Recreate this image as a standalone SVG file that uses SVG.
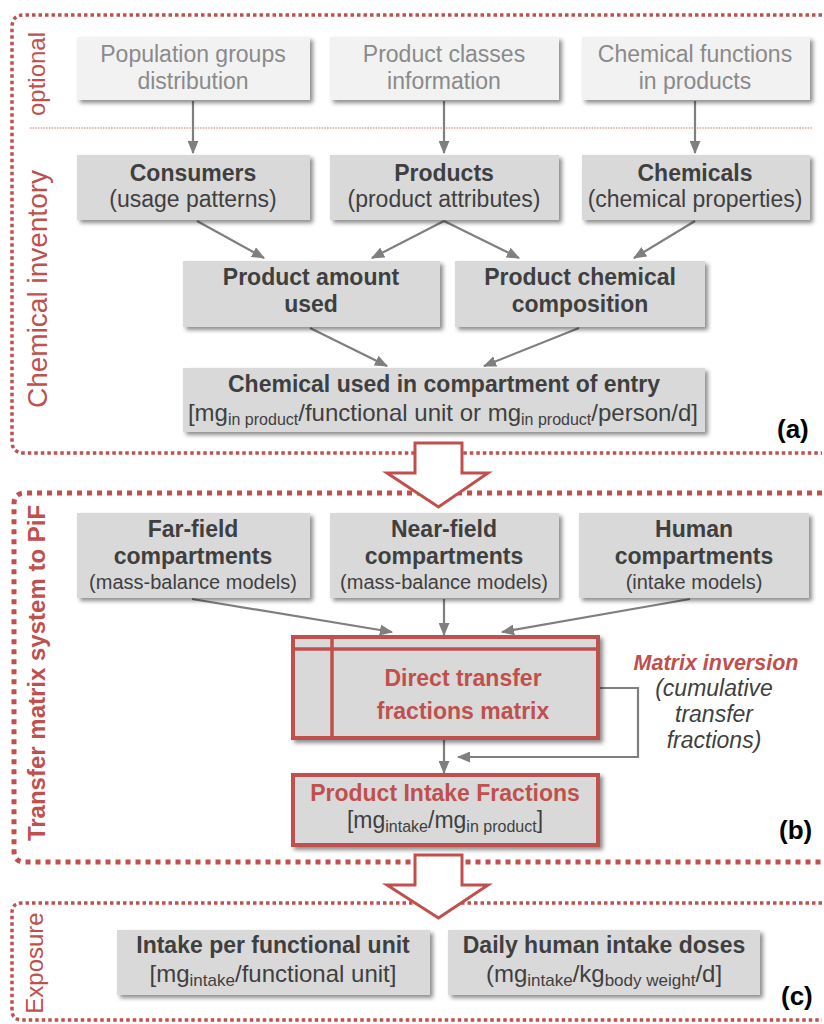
<svg xmlns="http://www.w3.org/2000/svg" width="824" height="1024" viewBox="0 0 824 1024">
<style>
.t{font-family:"Liberation Sans",Arial,sans-serif;text-anchor:middle}
.lt{fill:#8a8a8a;font-size:23px}
.b{fill:#3f3f3f;font-size:23px;font-weight:bold}
.r{fill:#3f3f3f;font-size:23px;font-weight:normal}
.r24{fill:#3f3f3f;font-size:24px;font-weight:normal}
.rs{fill:#3f3f3f;font-size:20px;font-weight:normal}
.red{fill:#c0504d;font-size:23px;font-weight:bold}
.lab{fill:#000;font-size:26px;font-weight:bold;font-family:"Liberation Sans",Arial,sans-serif}
.side{fill:#c0504d;font-family:"Liberation Sans",Arial,sans-serif;text-anchor:middle}
.optbox{fill:#f2f2f2}
.box{fill:#d9d9d9}
.con{stroke:#7f7f7f;stroke-width:2.2;fill:none}
.pa{fill:none;stroke:#c0504d;stroke-width:3.5;stroke-dasharray:3.5 3}
.pb{fill:none;stroke:#c0504d;stroke-width:5;stroke-dasharray:5 5}
.big{fill:#fff;stroke:#c0504d;stroke-width:3}
.sub{font-size:16px}
.sub2{font-size:16px}
.sub3{font-size:17px}
</style>
<defs>
<filter id="sh" x="-10%" y="-10%" width="125%" height="140%">
<feDropShadow dx="3" dy="3" stdDeviation="2" flood-color="#000" flood-opacity="0.45"/>
</filter>
<marker id="ah" viewBox="0 0 12 10" refX="11" refY="5" markerWidth="6" markerHeight="5" orient="auto" markerUnits="strokeWidth">
<path d="M0,0 L12,5 L0,10 Z" fill="#7f7f7f"/>
</marker>
</defs>
<rect width="824" height="1024" fill="#fff"/>

<g id="panels">
<path class="pa" d="M822,15 H24 Q12,15 12,27 V441 Q12,453 24,453 H822"/>
<line x1="30" y1="128" x2="812" y2="128" stroke="#e06868" stroke-width="1.2" stroke-dasharray="1.5 1.2"/>
<path class="pb" d="M822,493 H25 Q14,493 14,504 V851 Q14,862 25,862 H822"/>
<path class="pa" d="M822,903 H22 Q12,903 12,913 V1010 Q12,1020 22,1020 H822"/>
<text class="side" font-size="24" transform="translate(45,74) rotate(-90)">optional</text>
<text class="side" font-size="28" transform="translate(47,289) rotate(-90)">Chemical inventory</text>
<text class="side" font-size="24" font-weight="bold" transform="translate(45,673) rotate(-90)">Transfer matrix system to PiF</text>
<text class="side" font-size="24" transform="translate(43,963) rotate(-90)">Exposure</text>
<text class="lab" x="777" y="438">(a)</text>
<text class="lab" x="779" y="839">(b)</text>
<text class="lab" x="781" y="1005">(c)</text>
</g>

<g id="connectors">
<line class="con" x1="193" y1="101" x2="193" y2="153" marker-end="url(#ah)"/>
<line class="con" x1="444" y1="101" x2="444" y2="153" marker-end="url(#ah)"/>
<line class="con" x1="695" y1="101" x2="695" y2="153" marker-end="url(#ah)"/>
<line class="con" x1="197" y1="221" x2="264" y2="258" marker-end="url(#ah)"/>
<line class="con" x1="444" y1="221" x2="372" y2="258" marker-end="url(#ah)"/>
<line class="con" x1="444" y1="221" x2="519" y2="258" marker-end="url(#ah)"/>
<line class="con" x1="695" y1="221" x2="634" y2="258" marker-end="url(#ah)"/>
<line class="con" x1="310" y1="328" x2="387" y2="366" marker-end="url(#ah)"/>
<line class="con" x1="579" y1="328" x2="484" y2="366" marker-end="url(#ah)"/>
<line class="con" x1="192" y1="599" x2="392" y2="632" marker-end="url(#ah)"/>
<line class="con" x1="444" y1="599" x2="444" y2="635" marker-end="url(#ah)"/>
<line class="con" x1="690" y1="599" x2="502" y2="632" marker-end="url(#ah)"/>
<line class="con" x1="444" y1="740" x2="444" y2="773" marker-end="url(#ah)"/>
<polyline class="con" points="598,688 638,688 638,757 458,757" marker-end="url(#ah)"/>
</g>

<g id="bigarrows">
<path class="big" d="M415,443 H462 V473 H488 L438.5,507 L387,473 H415 Z"/>
<path class="big" d="M415,855 H462 V885 H488 L438.5,918 L387,885 H415 Z"/>
</g>

<g id="n-pop"><rect class="optbox" x="77" y="37" width="233" height="63" filter="url(#sh)"/>
<text class="t lt" x="193" y="62">Population groups<tspan x="193" dy="27">distribution</tspan></text></g>
<g id="n-pclass"><rect class="optbox" x="330" y="37" width="229" height="63" filter="url(#sh)"/>
<text class="t lt" x="444" y="62">Product  classes<tspan x="444" dy="27">information</tspan></text></g>
<g id="n-cfun"><rect class="optbox" x="582" y="37" width="228" height="63" filter="url(#sh)"/>
<text class="t lt" x="695" y="62">Chemical functions<tspan x="695" dy="27">in products</tspan></text></g>

<g id="n-consumers"><rect class="box" x="77" y="155" width="233" height="65" filter="url(#sh)"/>
<text class="t b" x="193" y="181">Consumers<tspan class="r" x="193" dy="26">(usage patterns)</tspan></text></g>
<g id="n-products"><rect class="box" x="330" y="155" width="229" height="65" filter="url(#sh)"/>
<text class="t b" x="444" y="181">Products<tspan class="r" x="444" dy="26">(product attributes)</tspan></text></g>
<g id="n-chemicals"><rect class="box" x="582" y="155" width="228" height="65" filter="url(#sh)"/>
<text class="t b" x="695" y="181">Chemicals<tspan class="r" x="695" dy="26" font-size="22">(chemical properties)</tspan></text></g>

<g id="n-amount"><rect class="box" x="183" y="261" width="257" height="66" filter="url(#sh)"/>
<text class="t b" x="311" y="285">Product amount<tspan x="311" dy="27">used</tspan></text></g>
<g id="n-composition"><rect class="box" x="455" y="261" width="250" height="66" filter="url(#sh)"/>
<text class="t b" x="580" y="285">Product chemical<tspan x="580" dy="27">composition</tspan></text></g>

<g id="n-entry"><rect class="box" x="183" y="368" width="522" height="64" filter="url(#sh)"/>
<text class="t b" x="444" y="392">Chemical used in compartment of entry<tspan x="443" dy="29" font-size="24" font-weight="normal">[mg</tspan><tspan class="sub2" font-weight="normal" dy="4">in product</tspan><tspan font-size="24" font-weight="normal" dy="-4">/functional unit or mg</tspan><tspan class="sub2" font-weight="normal" dy="4">in product</tspan><tspan font-size="24" font-weight="normal" dy="-4">/person/d]</tspan></text></g>

<g id="n-far"><rect class="box" x="77" y="513" width="233" height="85" filter="url(#sh)"/>
<text class="t b" x="193" y="537">Far-field<tspan x="193" dy="26.5">compartments</tspan><tspan class="rs" x="193" dy="25.5">(mass-balance models)</tspan></text></g>
<g id="n-near"><rect class="box" x="330" y="513" width="229" height="85" filter="url(#sh)"/>
<text class="t b" x="444" y="537">Near-field<tspan x="444" dy="26.5">compartments</tspan><tspan class="rs" x="444" dy="25.5">(mass-balance models)</tspan></text></g>
<g id="n-human"><rect class="box" x="579" y="513" width="230" height="85" filter="url(#sh)"/>
<text class="t b" x="694" y="537">Human<tspan x="694" dy="26.5">compartments</tspan><tspan class="rs" x="694" dy="25.5">(intake models)</tspan></text></g>

<g id="n-matrix"><rect class="box" x="293" y="637" width="305" height="101" stroke="#c0504d" stroke-width="4" filter="url(#sh)"/>
<line x1="293" y1="649" x2="598" y2="649" stroke="#c0504d" stroke-width="3.5"/>
<line x1="332" y1="637" x2="332" y2="738" stroke="#c0504d" stroke-width="3.5"/>
<text class="t red" x="463" y="686">Direct transfer<tspan x="463" dy="33">fractions matrix</tspan></text></g>

<g id="n-inversion">
<text class="t" x="716" y="670" font-size="21.5" font-weight="bold" font-style="italic" fill="#c0504d">Matrix inversion<tspan x="714" dy="26" font-size="23" font-weight="normal" fill="#3f3f3f">(cumulative</tspan><tspan x="714" dy="26" font-size="23" font-weight="normal" fill="#3f3f3f">transfer</tspan><tspan x="714" dy="26" font-size="23" font-weight="normal" fill="#3f3f3f">fractions)</tspan></text>
</g>

<g id="n-pif"><rect class="box" x="293" y="775" width="305" height="70" stroke="#c0504d" stroke-width="4" filter="url(#sh)"/>
<text class="t red" x="445" y="801">Product Intake Fractions<tspan class="r" x="445" dy="27">[mg</tspan><tspan class="r sub" dy="4">intake</tspan><tspan class="r" dy="-4">/mg</tspan><tspan class="r sub" dy="4">in product</tspan><tspan class="r" dy="-4">]</tspan></text></g>

<g id="n-intake"><rect class="box" x="117" y="930" width="313" height="65" filter="url(#sh)"/>
<text class="t b" x="273" y="953" font-size="24">Intake per functional unit<tspan class="r24" x="273" dy="29">[mg</tspan><tspan class="r24 sub3" dy="4">intake</tspan><tspan class="r24" dy="-4">/functional unit]</tspan></text></g>
<g id="n-daily"><rect class="box" x="448" y="930" width="312" height="65" filter="url(#sh)"/>
<text class="t b" x="604" y="953" font-size="24">Daily human intake doses<tspan class="r24" x="604" dy="29">(mg</tspan><tspan class="r24 sub3" dy="4">intake</tspan><tspan class="r24" dy="-4">/kg</tspan><tspan class="r24 sub3" dy="4">body weight</tspan><tspan class="r24" dy="-4">/d]</tspan></text></g>
</svg>
